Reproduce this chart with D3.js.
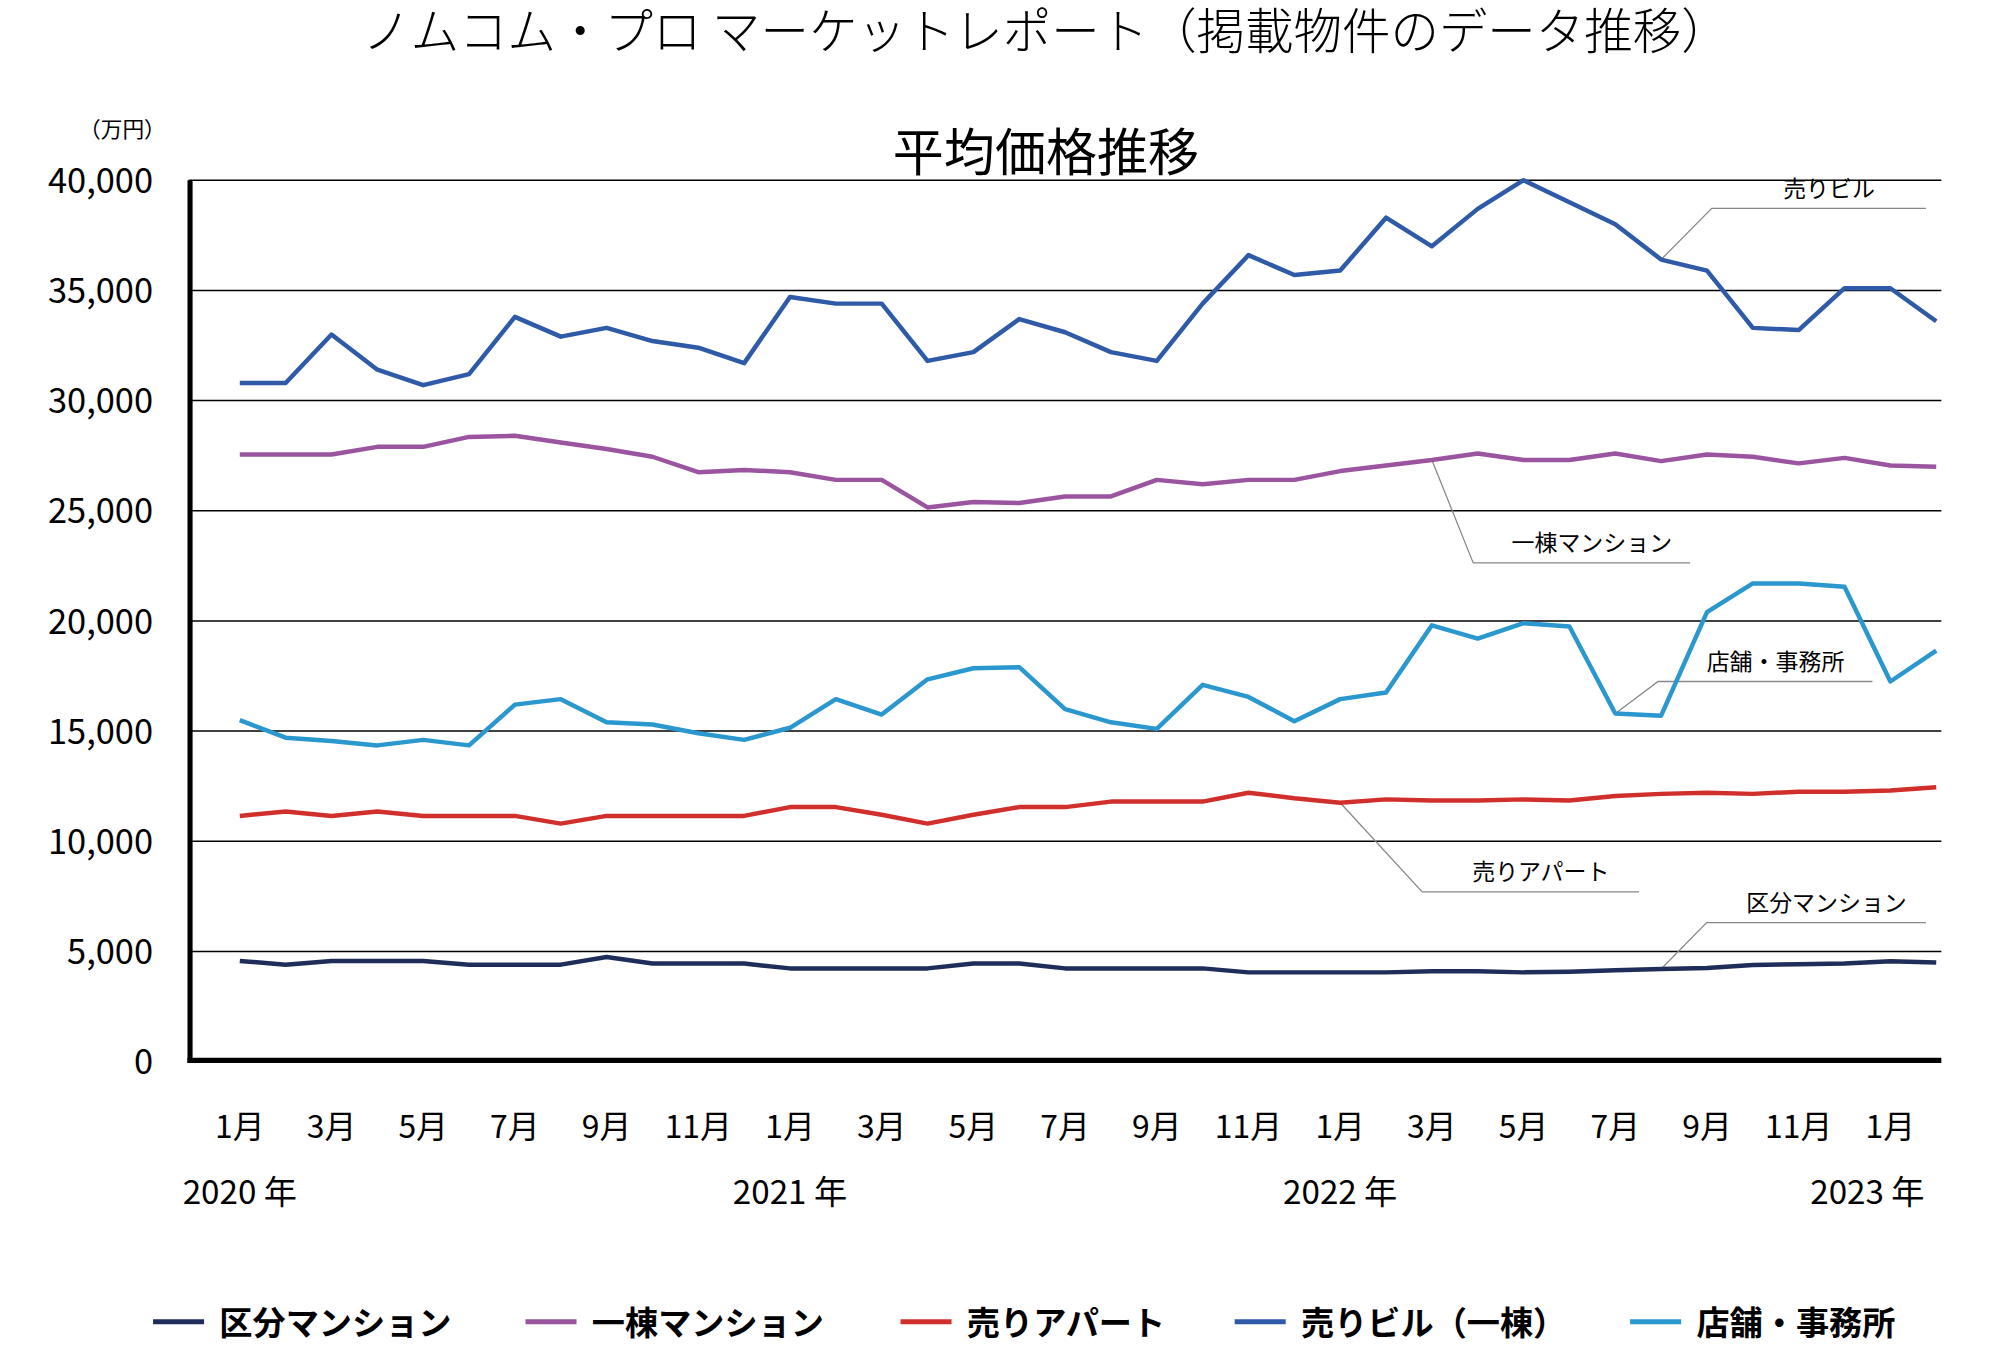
<!DOCTYPE html>
<html><head><meta charset="utf-8">
<script src="https://cdn.jsdelivr.net/npm/d3@7"></script>
<style>body{margin:0;background:#fff}text{font-family:"Noto Sans CJK JP","Noto Sans",sans-serif}</style>
</head><body><svg id="c" width="2000" height="1363" viewBox="0 0 1568 1068"></svg>
<script>
const months = ["1月","2月","3月","4月","5月","6月","7月","8月","9月","10月","11月","12月","1月","2月","3月","4月","5月","6月","7月","8月","9月","10月","11月","12月","1月","2月","3月","4月","5月","6月","7月","8月","9月","10月","11月","12月","1月","2月"];
const kubun = [4570,4400,4570,4570,4570,4400,4400,4400,4750,4450,4450,4450,4230,4230,4230,4230,4450,4450,4230,4230,4230,4230,4050,4050,4050,4050,4100,4100,4050,4080,4150,4200,4250,4380,4420,4450,4550,4500];
const ittou = [27550,27550,27550,27900,27900,28350,28400,28100,27800,27450,26750,26850,26750,26400,26400,25150,25400,25350,25650,25650,26400,26200,26400,26400,26800,27050,27300,27600,27300,27300,27600,27250,27550,27450,27150,27400,27050,27000];
const apart = [11150,11350,11150,11350,11150,11150,11150,10800,11150,11150,11150,11150,11550,11550,11200,10800,11200,11550,11550,11800,11800,11800,12200,11950,11750,11900,11850,11850,11900,11850,12050,12150,12200,12150,12250,12250,12300,12450];
const biru = [30800,30800,33000,31400,30700,31200,33800,32900,33300,32700,32400,31700,34700,34400,34400,31800,32200,33700,33100,32200,31800,34400,36600,35700,35900,38300,37000,38700,40000,39000,38000,36400,35900,33300,33200,35100,35100,33600];
const tenpo = [15500,14700,14550,14350,14600,14350,16200,16450,15400,15300,14900,14600,15150,16450,15750,17350,17850,17900,16000,15400,15100,17100,16550,15450,16450,16750,19800,19200,19900,19750,15800,15700,20400,21700,21700,21550,17250,18650];
const seriesNames = ["区分マンション","一棟マンション","売りアパート","売りビル（一棟）","店舗・事務所"];
const colors = ["#1f2d5a","#9b55a0","#d12f2b","#2e5aa8","#2a97cf"];
const yTicks = [0,5000,10000,15000,20000,25000,30000,35000,40000];
const years = [["2020 年",0],["2021 年",12],["2022 年",24],["2023 年",36]];
const annots = [["売りビル",3,31,1342,163,1510,163],["一棟マンション",1,26,1155,441,1325,441],["店舗・事務所",4,30,1300,534,1468,534],["売りアパート",2,24,1115,699,1285,699],["区分マンション",0,31,1338,723,1510,723]];
const data=[kubun,ittou,apart,biru,tenpo];

const svg=d3.select("#c");
const x=d3.scaleLinear().domain([0,37]).range([188,1518]);
const y=d3.scaleLinear().domain([0,40000]).range([832,141]);
svg.append("text").attr("x",820).attr("y",38).attr("text-anchor","middle").attr("font-size",38).attr("font-weight",300).text("ノムコム・プロ マーケットレポート（掲載物件のデータ推移）");
svg.append("text").attr("x",820).attr("y",134).attr("text-anchor","middle").attr("font-size",40).text("平均価格推移");
svg.append("text").attr("x",96).attr("y",107).attr("text-anchor","middle").attr("font-size",17).text("（万円）");
const g=svg.append("g");
yTicks.filter(d=>d>0).forEach(t=>g.append("line").attr("x1",148).attr("x2",1522).attr("y1",y(t)).attr("y2",y(t)).attr("stroke","#000").attr("stroke-width",1.2));
yTicks.forEach(t=>g.append("text").attr("x",120).attr("y",y(t)+10).attr("text-anchor","end").attr("font-size",27).attr("font-family","Liberation Sans, sans-serif").text(d3.format(",")(t)));
g.append("line").attr("x1",149).attr("x2",149).attr("y1",141).attr("y2",833).attr("stroke","#000").attr("stroke-width",4);
g.append("line").attr("x1",147).attr("x2",1522).attr("y1",831).attr("y2",831).attr("stroke","#000").attr("stroke-width",4);
months.forEach((m,i)=>{ if(i%2===0) g.append("text").attr("x",x(i)).attr("y",892).attr("text-anchor","middle").attr("font-size",25).text(m);});
years.forEach(([t,i])=>g.append("text").attr("x",x(i)+(i===36?-18:0)).attr("y",944).attr("text-anchor","middle").attr("font-size",26).text(t));
annots.forEach(([t,s,i,ex,ey,lx,ly])=>{
  g.append("polyline").attr("points",`${x(i)},${y(data[s][i])} ${ex},${ey} ${lx},${ly}`).attr("fill","none").attr("stroke","#888").attr("stroke-width",1);
  g.append("text").attr("x",(ex+lx)/2+8).attr("y",ey-9).attr("text-anchor","middle").attr("font-size",18).text(t);
});
const line=d3.line().x((d,i)=>x(i)).y(d=>y(d));
data.forEach((d,k)=>g.append("path").attr("d",line(d)).attr("fill","none").attr("stroke",colors[k]).attr("stroke-width",3.5).attr("stroke-linejoin","round"));
const lx=[120,412,706,968,1278];
seriesNames.forEach((n,k)=>{
  svg.append("line").attr("x1",lx[k]).attr("x2",lx[k]+40).attr("y1",1036).attr("y2",1036).attr("stroke",colors[k]).attr("stroke-width",4);
  svg.append("text").attr("x",lx[k]+52).attr("y",1046).attr("font-size",26).attr("font-weight",700).text(n);
});
</script></body></html>
